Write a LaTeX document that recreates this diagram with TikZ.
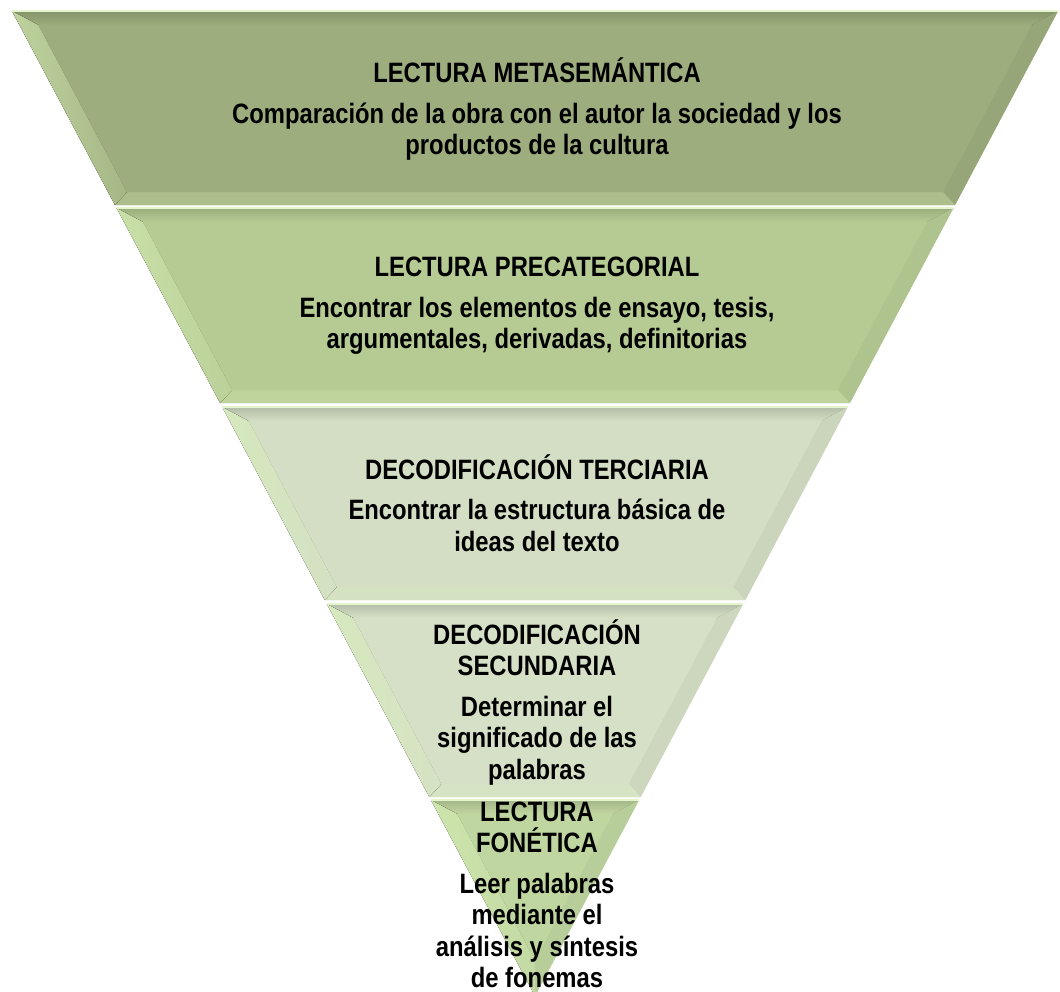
\documentclass[tikz,border=0pt]{standalone}
\usepackage{fontspec}
\setmainfont{Liberation Sans}[FakeStretch=0.85]
\usetikzlibrary{calc}
\definecolor{cA}{HTML}{9DAD7D}
\definecolor{cB}{HTML}{B5CB93}
\definecolor{cC}{HTML}{D3DEC4}
\definecolor{cD}{HTML}{D5E0C6}
\definecolor{cE}{HTML}{C0D6A0}
\definecolor{hl}{HTML}{D8F0B8}
\newcommand{\drawband}[5]{%
  \pgfmathsetmacro\ya{#1}\pgfmathsetmacro\yb{#2}\pgfmathsetmacro\ybi{#3}%
  \pgfmathsetmacro\wa{(996-\ya)*0.531}%
  \pgfmathsetmacro\wb{(996-\yb)*0.531}%
  \pgfmathsetmacro\yai{\ya+14}%
  \pgfmathsetmacro\wai{(996-\yai)*0.531-19}%
  \pgfmathsetmacro\wbi{max((996-\ybi)*0.531-19,0)}%
  \coordinate (#5L1) at (535-\wa,\ya);
  \coordinate (#5R1) at (535+\wa,\ya);
  \coordinate (#5L2) at (535-\wb,\yb);
  \coordinate (#5R2) at (535+\wb,\yb);
  \coordinate (#5l1) at (535-\wai,\yai);
  \coordinate (#5r1) at (535+\wai,\yai);
  \coordinate (#5l2) at (535-\wbi,\ybi);
  \coordinate (#5r2) at (535+\wbi,\ybi);
  \fill[#4] (#5L1) -- (#5R1) -- (#5R2) -- (#5L2) -- cycle;
  \fill[top color=#4!85!black, bottom color=#4] (#5L1) -- (#5R1) -- (#5r1) -- (#5l1) -- cycle;
  \fill[#4!96!black] (#5R1) -- (#5R2) -- (#5r2) -- (#5r1) -- cycle;
  \fill[#4!75!hl] (#5R2) -- (#5L2) -- (#5l2) -- (#5r2) -- cycle;
  \fill[left color=#4!45!hl, right color=#4!85!hl] (#5L2) -- (#5L1) -- (#5l1) -- (#5l2) -- cycle;
  \fill[#4] (#5l1) -- (#5r1) -- (#5r2) -- (#5l2) -- cycle;
  \draw[hl!70!white, line width=1.2pt] (#5L1) -- (#5R1);
}
\tikzset{
  lbl/.style={align=center, inner sep=0pt, text=black,
    font=\fontsize{28}{31.5}\selectfont\bfseries}
}
\begin{document}
\begin{tikzpicture}[x=1pt,y=-1pt]
\useasboundingbox (0,0) rectangle (1060,991);
\begin{scope}
\clip (0,0) rectangle (1060,991);
\drawband{11}{205}{192}{cA}{a}
\drawband{208}{403}{390}{cB}{b}
\drawband{407}{600}{587}{cC}{c}
\drawband{604}{797}{784}{cD}{d}
\drawband{800}{996}{960}{cE}{e}
\end{scope}
\node[lbl] (t1) at (537,109) {LECTURA METASEMÁNTICA\\[9pt]Comparación de la obra con el autor la sociedad y los\\productos de la cultura};
\node[lbl] (t2) at (537,306) {LECTURA PRECATEGORIAL\\[9pt]Encontrar los elementos de ensayo, tesis,\\argumentales, derivadas, definitorias};
\node[lbl] (t3) at (537,503) {DECODIFICACIÓN TERCIARIA\\[9pt]Encontrar la estructura básica de\\ideas del texto};
\node[lbl] (t4) at (537,702) {DECODIFICACIÓN\\SECUNDARIA\\[9pt]Determinar el\\significado de las\\palabras};
\node[lbl] (t5) at (537,895) {LECTURA\\FONÉTICA\\[9pt]Leer palabras\\mediante el\\análisis y síntesis\\de fonemas};
\end{tikzpicture}
\end{document}
